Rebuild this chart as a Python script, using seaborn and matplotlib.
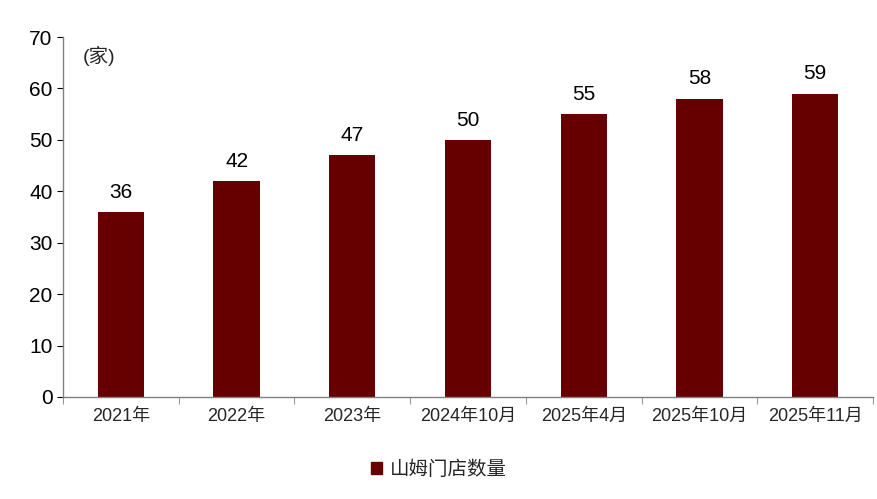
import matplotlib
matplotlib.use("Agg")
import matplotlib.pyplot as plt
import seaborn as sns
import pandas as pd
import numpy as np

categories = ["2021年", "2022年", "2023年", "2024年10月", "2025年4月", "2025年10月", "2025年11月"]
values = [36, 42, 47, 50, 55, 58, 59]
series_name = "山姆门店数量"

sns.set_style("white")
plt.rcParams['font.family'] = ['Liberation Sans', 'Noto Sans CJK SC', 'DejaVu Sans']

df = pd.DataFrame({"cat": categories, "val": values})
fig = plt.figure(figsize=(8.78, 4.99), dpi=100)
ax = fig.add_axes([63/878, 1-397/499, 810/878, 360/499])
color = "#660000"
sns.barplot(data=df, x="cat", y="val", color=color, width=0.4, ax=ax, saturation=1,
            edgecolor="none")
for i, v in enumerate(values):
    ax.text(i, v + 2, str(v), ha="center", va="bottom", fontsize=15, color="#000000")
ax.set_ylim(0, 70)
ax.set_xlim(-0.5, len(categories) - 0.5)
ax.set_yticks(range(0, 71, 10))
ax.tick_params(axis="y", labelsize=15, length=4, direction="out", left=True, colors="black")
ax.tick_params(axis="x", which="major", labelsize=13, length=0, pad=8)
ax.set_xticks(np.arange(-0.5, len(categories), 1), minor=True)
ax.tick_params(axis="x", which="minor", length=5, direction="out", bottom=True, color="#808080")
ax.set_xlabel("")
ax.set_ylabel("")
for s in ["top", "right"]:
    ax.spines[s].set_visible(False)
for s in ["left", "bottom"]:
    ax.spines[s].set_color("#808080")
    ax.spines[s].set_linewidth(1)
ax.text(0.025, 0.975, "(家)", transform=ax.transAxes, fontsize=14, va="top", ha="left")
from matplotlib.patches import Patch
fig.legend(handles=[Patch(color=color, label=series_name)], loc="center",
           bbox_to_anchor=(0.5, 1-470/499), frameon=False, fontsize=14,
           handlelength=0.6, handleheight=0.6, handletextpad=0.4)
fig.savefig("out.png", dpi=100)
